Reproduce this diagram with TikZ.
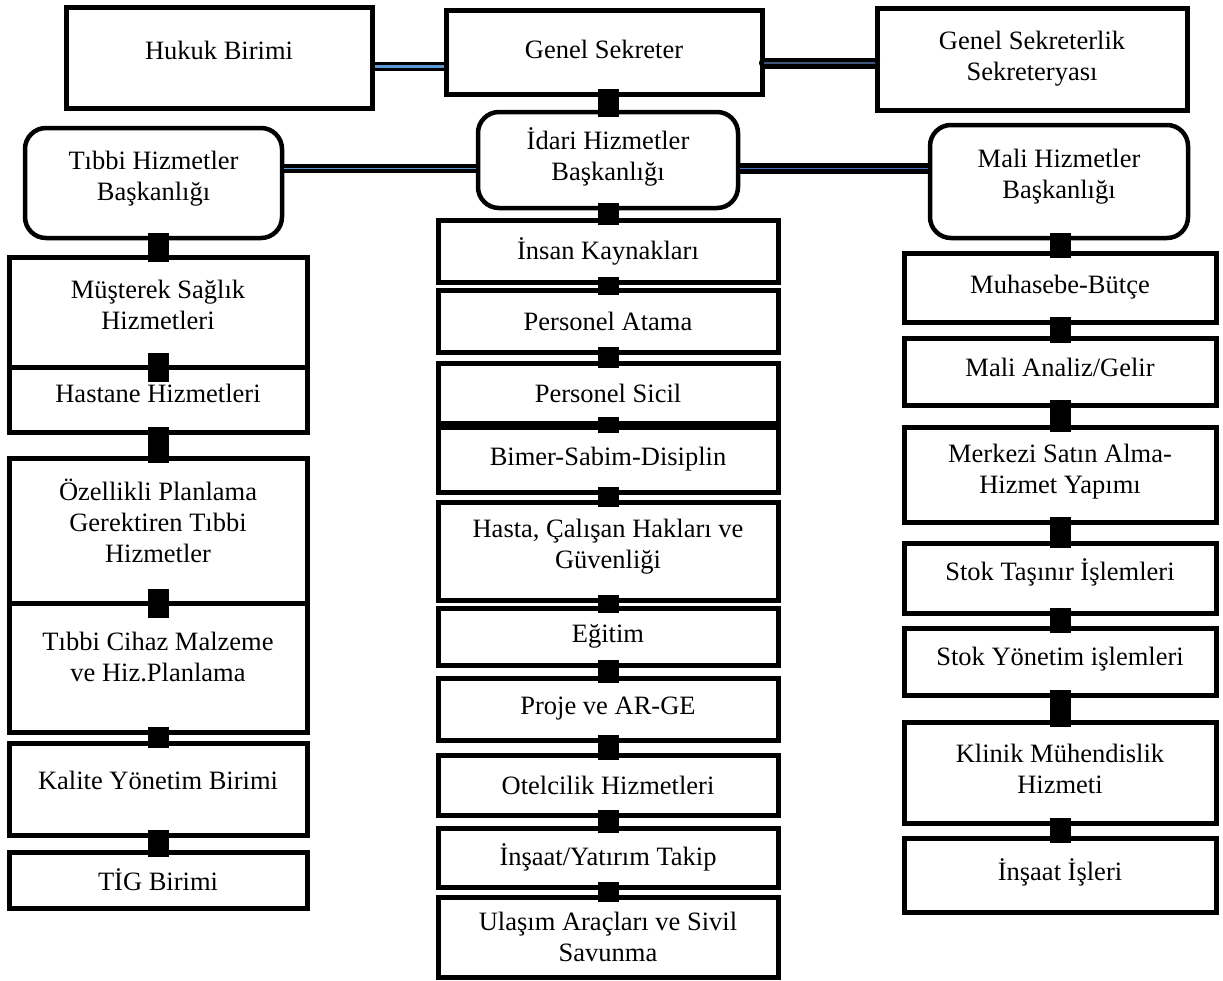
\documentclass[tikz,border=0pt]{standalone}
\usepackage{fontspec}
\setmainfont{Liberation Serif}
\usetikzlibrary{calc}

\definecolor{barblue}{RGB}{91,155,213}
\definecolor{barnavy}{RGB}{62,84,120}
\definecolor{barmid}{RGB}{68,114,196}

\tikzset{
	unitbox/.style={draw, line width=5pt, rectangle, inner sep=0pt, align=center,
		font=\fontsize{26.5}{31}\selectfont},
	headbox/.style={unitbox, line width=4.5pt, rounded corners=21pt},
	lift/.style={text depth=#1},
	knob/.style={line width=21pt, shorten <=-#1, shorten >=-#1},
	knob/.default=7.5pt,
	bar/.style={draw=black, line width=3.5pt, double=#1, double distance=2.5pt},
	bar/.default=barblue
}

\begin{document}
\begin{tikzpicture}[x=1pt, y=-1pt]
	\useasboundingbox (0,0) rectangle (1223,980);
	
	% top row
	\node[unitbox, minimum width=306, minimum height=101, lift=14pt] (hukuk) at (219,57.5) {Hukuk Birimi};
	\node[unitbox, minimum width=316, minimum height=84, lift=6pt] (genel) at (604,52) {Genel Sekreter};
	\node[unitbox, minimum width=310, minimum height=102] (sekr) at (1032,59) {Genel Sekreterlik\\Sekreteryası};
	
	% heads
	\node[headbox, minimum width=257, minimum height=110, lift=14pt] (tibbi) at (153.5,183) {Tıbbi Hizmetler\\Başkanlığı};
	\node[headbox, minimum width=260, minimum height=96, lift=12pt] (idari) at (608,160) {İdari Hizmetler\\Başkanlığı};
	\node[headbox, minimum width=258, minimum height=113, lift=16pt] (mali) at (1059,181.5) {Mali Hizmetler\\Başkanlığı};
	
	% left column
	\node[unitbox, minimum width=298, minimum height=110, lift=14pt] (mus) at (158,312) {Müşterek Sağlık\\Hizmetleri};
	\node[unitbox, minimum width=298, minimum height=65, lift=12pt] (hast) at (158,399.5) {Hastane Hizmetleri};
	\node[unitbox, minimum width=298, minimum height=145, lift=20pt] (ozel) at (158,530.5) {Özellikli Planlama\\Gerektiren Tıbbi\\Hizmetler};
	\node[unitbox, minimum width=298, minimum height=129, lift=22pt] (cihaz) at (158,667.5) {Tıbbi Cihaz Malzeme\\ve Hiz.Planlama};
	\node[unitbox, minimum width=298, minimum height=92, lift=18pt] (kalite) at (158,789) {Kalite Yönetim Birimi};
	\node[unitbox, minimum width=298, minimum height=56] (tig) at (158,880) {TİG Birimi};
	
	% middle column
	\node[unitbox, minimum width=340, minimum height=62] (insan) at (608,251) {İnsan Kaynakları};
	\node[unitbox, minimum width=340, minimum height=62] (atama) at (608,321) {Personel Atama};
	\node[unitbox, minimum width=340, minimum height=60] (sicil) at (608,393) {Personel Sicil};
	\node[unitbox, minimum width=340, minimum height=65] (bimer) at (608,459.5) {Bimer-Sabim-Disiplin};
	\node[unitbox, minimum width=340, minimum height=98, lift=14pt] (hasta) at (608,551) {Hasta, Çalışan Hakları ve\\Güvenliği};
	\node[unitbox, minimum width=340, minimum height=57] (egitim) at (608,636.5) {Eğitim};
	\node[unitbox, minimum width=340, minimum height=62] (proje) at (608,709) {Proje ve AR-GE};
	\node[unitbox, minimum width=340, minimum height=60] (otel) at (608,785) {Otelcilik Hizmetleri};
	\node[unitbox, minimum width=340, minimum height=59] (yatirim) at (608,857.5) {İnşaat/Yatırım Takip};
	\node[unitbox, minimum width=340, minimum height=80] (ulasim) at (608,937) {Ulaşım Araçları ve Sivil\\Savunma};
	
	% right column
	\node[unitbox, minimum width=312, minimum height=69, lift=6pt] (muh) at (1060,287.5) {Muhasebe-Bütçe};
	\node[unitbox, minimum width=312, minimum height=67, lift=8pt] (analiz) at (1060,371.5) {Mali Analiz/Gelir};
	\node[unitbox, minimum width=312, minimum height=95, lift=12pt] (merkez) at (1060,474.5) {Merkezi Satın Alma-\\Hizmet Yapımı};
	\node[unitbox, minimum width=312, minimum height=70, lift=16pt] (tasinir) at (1060,578) {Stok Taşınır İşlemleri};
	\node[unitbox, minimum width=312, minimum height=67, lift=10pt] (yonetim) at (1060,661.5) {Stok Yönetim işlemleri};
	\node[unitbox, minimum width=312, minimum height=101, lift=8pt] (klinik) at (1060,772.5) {Klinik Mühendislik\\Hizmeti};
	\node[unitbox, minimum width=312, minimum height=74, lift=10pt] (insaat) at (1060,875) {İnşaat İşleri};
	
	% horizontal links
	\coordinate (r1) at (0,66.5);
	\coordinate (r2) at (0,63);
	\coordinate (r3) at (0,168.5);
	\draw[bar] (hukuk.east |- r1) -- (genel.west |- r1);
	\draw[bar=barnavy, line width=4.5pt, line cap=round, double distance=2pt] (genel.east |- r2) -- (sekr.west |- r2);
	\draw[bar=barblue, double distance=1.5pt] (tibbi.east |- r3) -- (idari.west |- r3);
	\draw[bar=barmid, line width=4.5pt, double distance=1.5pt] (idari.east |- r3) -- (mali.west |- r3);
	
	% vertical links
	\draw[knob] (genel.south -| idari.north) -- (idari.north);
	\foreach \a/\b in {tibbi/mus, hast/ozel, cihaz/kalite, kalite/tig,
		idari/insan, insan/atama, atama/sicil, sicil/bimer, bimer/hasta, hasta/egitim,
		egitim/proje, proje/otel, otel/yatirim, yatirim/ulasim,
		mali/muh, muh/analiz, analiz/merkez, merkez/tasinir, tasinir/yonetim,
		yonetim/klinik, klinik/insaat}
		\draw[knob] (\a.south -| \b.north) -- (\b.north);
	\foreach \a/\b in {mus/hast, ozel/cihaz}
		\draw[knob=12pt] (\a.south -| \b.north) -- (\b.north);
\end{tikzpicture}
\end{document}
